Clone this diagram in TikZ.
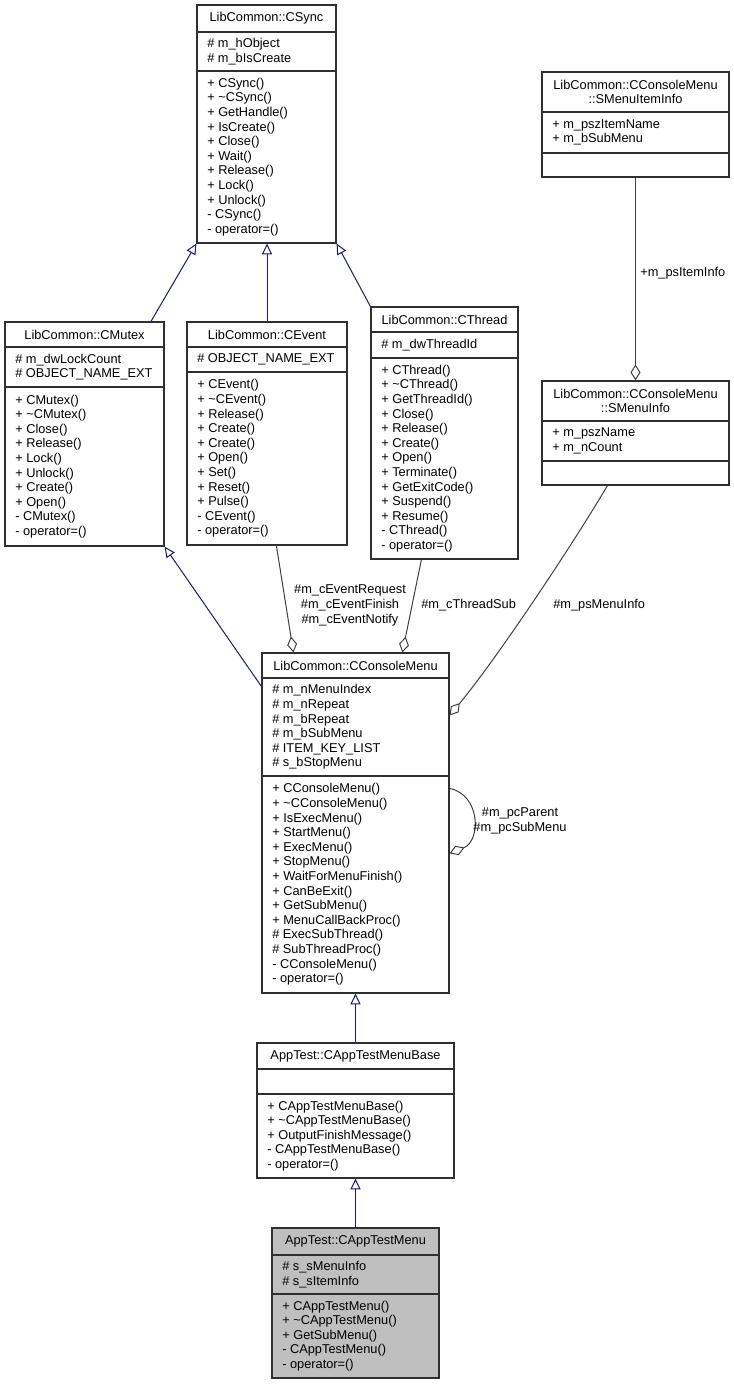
\documentclass[tikz,border=0pt]{standalone}
\usepackage{fontspec}
\newfontfamily\umlfont{Liberation Sans}
\usetikzlibrary{arrows.meta,fit,calc}
\definecolor{inhcol}{HTML}{191970}
\definecolor{aggcol}{HTML}{404040}
\definecolor{boxcol}{HTML}{303030}
\definecolor{selcol}{HTML}{BFBFBF}
\newcommand\uf{\umlfont\fontsize{9.6pt}{10.95pt}\selectfont}
\newcommand\umlclass[8]{%
  \node[umlbox, fill=#8, fit={(#2,#3)(#4,#5)}] (#1) {};
  \draw[sepline] (#2,#6) -- (#4,#6);
  \draw[sepline] (#2,#7) -- (#4,#7);
}
\begin{document}
\begin{tikzpicture}[x=0.75pt,y=-0.75pt,
  umlbox/.style={draw=boxcol, line width=0.9pt, inner sep=0pt},
  sepline/.style={draw=boxcol, line width=0.9pt},
  ttl/.style={font=\uf, inner sep=0pt, align=center},
  txt/.style={font=\uf, inner sep=0pt, anchor=west, align=left},
  lbl/.style={font=\uf, inner sep=0pt},
  inh/.style={draw=inhcol, line width=0.75pt, -{Triangle[open, length=8pt, width=7.5pt]}},
  agg/.style={draw=aggcol, line width=0.75pt, {Diamond[open, length=12pt, width=7.5pt]}-}
]
\fill[white] (0,0) rectangle (734,1384);
\useasboundingbox (0,0) rectangle (734,1384);

% ---------- CSync
\umlclass{csync}{197}{5}{336}{243}{32}{71}{white}
\node[ttl] (csync-t) at (266.5,18.5) {LibCommon::CSync};
\node[txt] (csync-a) at (207,51.5) {\# m\_hObject\\\# m\_bIsCreate};
\node[txt] (csync-m) at (207,157) {+ CSync()\\+ \textasciitilde{}CSync()\\+ GetHandle()\\+ IsCreate()\\+ Close()\\+ Wait()\\+ Release()\\+ Lock()\\+ Unlock()\\- CSync()\\- operator=()};

% ---------- CMutex
\umlclass{cmutex}{5}{322}{164}{546}{347}{387}{white}
\node[ttl] (cmutex-t) at (84.5,334.5) {LibCommon::CMutex};
\node[txt] (cmutex-a) at (15,367) {\# m\_dwLockCount\\\# OBJECT\_NAME\_EXT};
\node[txt] (cmutex-m) at (15,466.5) {+ CMutex()\\+ \textasciitilde{}CMutex()\\+ Close()\\+ Release()\\+ Lock()\\+ Unlock()\\+ Create()\\+ Open()\\- CMutex()\\- operator=()};

% ---------- CEvent
\umlclass{cevent}{187}{322}{347}{545}{347}{372}{white}
\node[ttl] (cevent-t) at (267,334.5) {LibCommon::CEvent};
\node[txt] (cevent-a) at (197,359.5) {\# OBJECT\_NAME\_EXT};
\node[txt] (cevent-m) at (197,458.5) {+ CEvent()\\+ \textasciitilde{}CEvent()\\+ Release()\\+ Create()\\+ Create()\\+ Open()\\+ Set()\\+ Reset()\\+ Pulse()\\- CEvent()\\- operator=()};

% ---------- CThread
\umlclass{cthread}{371}{307}{518}{559}{332}{358}{white}
\node[ttl] (cthread-t) at (444.5,319.5) {LibCommon::CThread};
\node[txt] (cthread-a) at (381,345) {\# m\_dwThreadId};
\node[txt] (cthread-m) at (381,458.5) {+ CThread()\\+ \textasciitilde{}CThread()\\+ GetThreadId()\\+ Close()\\+ Release()\\+ Create()\\+ Open()\\+ Terminate()\\+ GetExitCode()\\+ Suspend()\\+ Resume()\\- CThread()\\- operator=()};

% ---------- SMenuItemInfo
\umlclass{smenuitem}{542}{72}{729}{177}{112}{153}{white}
\node[ttl] (smenuitem-t) at (635.5,92) {LibCommon::CConsoleMenu\\::SMenuItemInfo};
\node[txt] (smenuitem-a) at (552,132.5) {+ m\_pszItemName\\+ m\_bSubMenu};

% ---------- SMenuInfo
\umlclass{smenuinfo}{542}{381}{729}{485}{421}{461}{white}
\node[ttl] (smenuinfo-t) at (635.5,401) {LibCommon::CConsoleMenu\\::SMenuInfo};
\node[txt] (smenuinfo-a) at (552,441) {+ m\_pszName\\+ m\_nCount};

% ---------- CConsoleMenu
\umlclass{cconsole}{262}{653}{449}{993}{678}{776}{white}
\node[ttl] (cconsole-t) at (355.5,665.5) {LibCommon::CConsoleMenu};
\node[txt] (cconsole-a) at (272,727) {\# m\_nMenuIndex\\\# m\_nRepeat\\\# m\_bRepeat\\\# m\_bSubMenu\\\# ITEM\_KEY\_LIST\\\# s\_bStopMenu};
\node[txt] (cconsole-m) at (272,884.5) {+ CConsoleMenu()\\+ \textasciitilde{}CConsoleMenu()\\+ IsExecMenu()\\+ StartMenu()\\+ ExecMenu()\\+ StopMenu()\\+ WaitForMenuFinish()\\+ CanBeExit()\\+ GetSubMenu()\\+ MenuCallBackProc()\\\# ExecSubThread()\\\# SubThreadProc()\\- CConsoleMenu()\\- operator=()};

% ---------- CAppTestMenuBase
\umlclass{cbase}{257}{1043}{454}{1178}{1069}{1094}{white}
\node[ttl] (cbase-t) at (355.5,1056) {AppTest::CAppTestMenuBase};
\node[txt] (cbase-m) at (267,1136) {+ CAppTestMenuBase()\\+ \textasciitilde{}CAppTestMenuBase()\\+ OutputFinishMessage()\\- CAppTestMenuBase()\\- operator=()};

% ---------- CAppTestMenu
\umlclass{capp}{272}{1228}{439}{1378}{1255}{1294}{selcol}
\node[ttl] (capp-t) at (355.5,1241.5) {AppTest::CAppTestMenu};
\node[txt] (capp-a) at (282,1274.5) {\# s\_sMenuInfo\\\# s\_sItemInfo};
\node[txt] (capp-m) at (282,1336) {+ CAppTestMenu()\\+ \textasciitilde{}CAppTestMenu()\\+ GetSubMenu()\\- CAppTestMenu()\\- operator=()};

% ---------- inheritance
\draw[inh] ($(cmutex.north west)!0.915!(cmutex.north east)$) -- (csync.south west);
\draw[inh] (cevent.north) -- (cevent.north |- csync.south);
\draw[inh] (cthread.north west) -- (csync.south east);
\draw[inh] ($(cconsole.north west)+(0,34)$) -- (cmutex.south east);
\draw[inh] (cbase.north) -- (cbase.north |- cconsole.south);
\draw[inh] (capp.north) -- (capp.north |- cbase.south);

% ---------- aggregation
\draw[agg] ($(cconsole.north west)+(32,0)$) -- ($(cevent.south west)+(90,0)$);
\draw[agg] ($(cconsole.north west)+(141,0)$) -- ($(cthread.south west)+(51,0)$);
\draw[agg] ($(cconsole.north east)+(0,63)$) .. controls (499,656) and (578,536) .. ($(smenuinfo.south west)+(66,0)$);
\draw[agg] (smenuinfo.north) -- (smenuitem.south);
\draw[agg] ($(cconsole.north east)+(0,201)$) .. controls (481,841) and (481,795) .. ($(cconsole.north east)+(0,136)$);

% ---------- edge labels
\node[lbl, align=center] (lbl-event) at (350,605.5) {\#m\_cEventRequest\\\#m\_cEventFinish\\\#m\_cEventNotify};
\node[lbl, anchor=west] (lbl-thread) at (421,605) {\#m\_cThreadSub};
\node[lbl, anchor=west] (lbl-psmenu) at (553,605) {\#m\_psMenuInfo};
\node[lbl, anchor=west] (lbl-psitem) at (640,273) {+m\_psItemInfo};
\node[lbl, align=center] (lbl-self) at (520,821) {\#m\_pcParent\\\#m\_pcSubMenu};
\end{tikzpicture}
\end{document}
